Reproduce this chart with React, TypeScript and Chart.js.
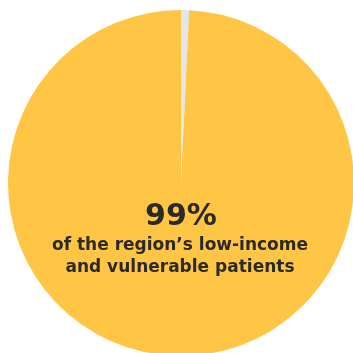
import React, { useEffect, useRef } from "react";
import { Chart, registerables } from "chart.js";

Chart.register(...registerables);

const labels = ["Not covered", "Low-income and vulnerable patients"];
const values = [0.75, 99.25];
const colors = ["#E6E6E8", "#FFC545"];
const headline = "99%";
const captionLines = ["of the region’s low-income", "and vulnerable patients"];

export default function App() {
  const ref = useRef<HTMLCanvasElement | null>(null);
  useEffect(() => {
    if (!ref.current) return;
    const chart = new Chart(ref.current, {
      type: "pie",
      data: {
        labels,
        datasets: [
          {
            data: values,
            backgroundColor: colors,
            borderWidth: 0,
          },
        ],
      },
      options: {
        animation: false,
        responsive: false,
        maintainAspectRatio: false,
        layout: { padding: 0 },
        plugins: {
          legend: { display: false },
          tooltip: { enabled: false },
        },
      },
    });
    return () => chart.destroy();
  }, []);

  const font = "'DejaVu Sans', sans-serif";
  return (
    <div style={{ position: "absolute", left: 0, top: 0, width: 353, height: 353, overflow: "hidden", background: "#fff" }}>
      <canvas
        ref={ref}
        width={346}
        height={346}
        style={{ position: "absolute", left: 8, top: 10, width: 346, height: 346 }}
      />
      <div
        style={{
          position: "absolute",
          left: 0,
          width: 362,
          top: 199,
          textAlign: "center",
          fontFamily: font,
          fontWeight: 700,
          fontSize: 30,
          lineHeight: "32px",
          color: "#2B2A29",
        }}
      >
        {headline}
      </div>
      {captionLines.map((t, i) => (
        <div
          key={i}
          style={{
            position: "absolute",
            left: 0,
            width: 360,
            top: 234 + i * 22,
            textAlign: "center",
            fontFamily: font,
            fontWeight: 700,
            fontSize: 17,
            lineHeight: "20px",
            color: "#2B2A29",
            whiteSpace: "nowrap",
          }}
        >
          {t}
        </div>
      ))}
    </div>
  );
}
